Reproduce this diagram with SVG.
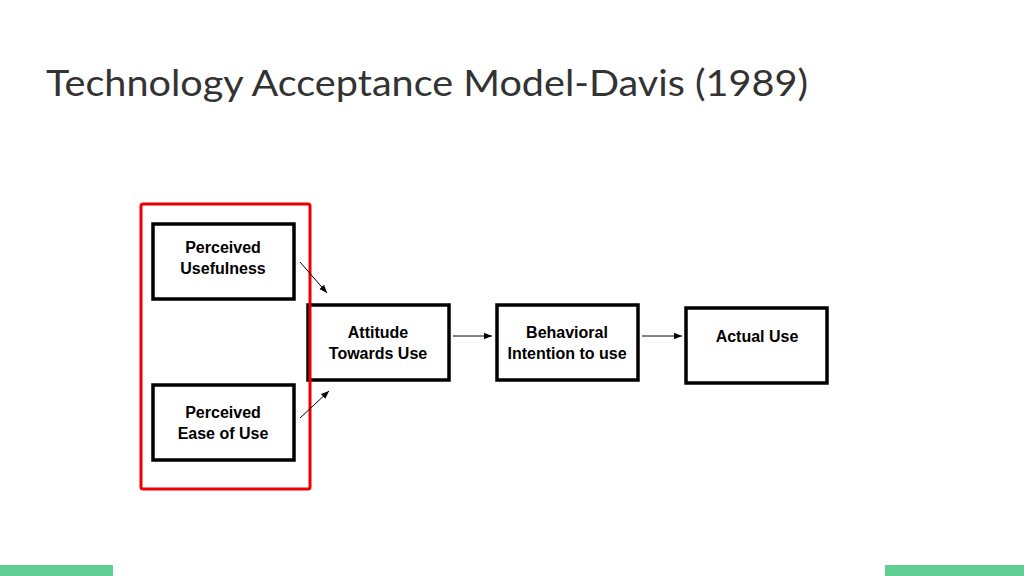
<svg xmlns="http://www.w3.org/2000/svg" width="1024" height="576" viewBox="0 0 1024 576">
<defs>
<style>
.box{fill:#fff;stroke:#000;stroke-width:3.5}
.t{font-family:"Liberation Sans",Arial,sans-serif;font-weight:bold;font-size:16px;text-anchor:middle;fill:#000}
.c{stroke:#000;stroke-width:1;fill:none;marker-end:url(#a)}
</style>
<marker id="a" viewBox="0 0 10 10" refX="10" refY="5" markerWidth="8" markerHeight="8" orient="auto"><path d="M0,1 L10,5 L0,9 z" fill="#000"/></marker>
</defs>
<rect width="1024" height="576" fill="#fff"/>
<text x="46" y="96" font-family="Lato,'Open Sans',sans-serif" font-size="37" fill="#333" textLength="762" lengthAdjust="spacingAndGlyphs">Technology Acceptance Model-Davis (1989)</text>
<rect x="0" y="565" width="113" height="11" fill="#5fcf94"/>
<rect x="885" y="565" width="139" height="11" fill="#5fcf94"/>
<g id="pu"><rect class="box" x="153" y="224" width="141" height="75"/><text class="t" x="223" y="253">Perceived</text><text class="t" x="223" y="274">Usefulness</text></g>
<g id="peou"><rect class="box" x="153" y="385" width="141" height="75"/><text class="t" x="223" y="418">Perceived</text><text class="t" x="223" y="439">Ease of Use</text></g>
<g id="att"><rect class="box" x="308" y="305" width="141" height="75"/><text class="t" x="378" y="338">Attitude</text><text class="t" x="378" y="359">Towards Use</text></g>
<g id="bi"><rect class="box" x="497" y="305" width="141" height="75"/><text class="t" x="567" y="338">Behavioral</text><text class="t" x="567" y="359">Intention to use</text></g>
<g id="au"><rect class="box" x="686" y="308" width="141" height="75"/><text class="t" x="757" y="342">Actual Use</text></g>
<g id="frame"><rect x="141" y="204" width="169" height="285" fill="none" stroke="#e00" stroke-width="3" rx="2"/></g>
<g id="connectors">
<line class="c" x1="300" y1="262" x2="327" y2="293"/>
<line class="c" x1="300" y1="418" x2="329" y2="391"/>
<line class="c" x1="453" y1="336" x2="492" y2="336"/>
<line class="c" x1="642" y1="336" x2="682" y2="336"/>
</g>
</svg>
